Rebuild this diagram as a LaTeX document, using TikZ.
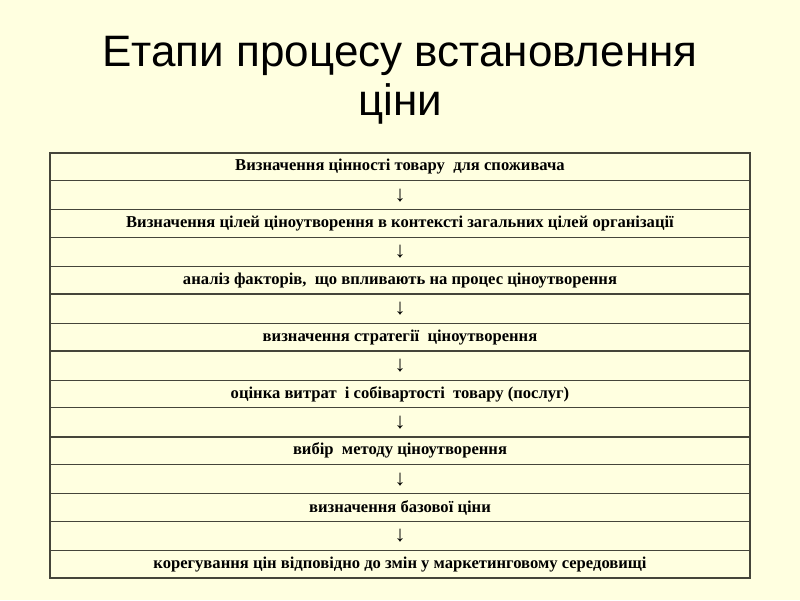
\documentclass[tikz,border=0pt]{standalone}
\usepackage{fontspec}
\setmainfont{Liberation Serif}
\newfontfamily\titlefont{Liberation Sans}
\definecolor{bg}{HTML}{FFFFE0}
\definecolor{rulec}{HTML}{45453A}
\tikzset{
  stagecell/.style={draw=rulec, line width=1.3pt, minimum width=700pt, minimum height=27.5pt, inner sep=0pt, font=\fontsize{16.6}{18}\selectfont\bfseries, text=black},
  arrowcell/.style={draw=rulec, line width=1.3pt, minimum width=700pt, minimum height=29.3pt, inner sep=0pt, font=\fontsize{22}{24}\selectfont, text=black},
  titletext/.style={font=\titlefont\fontsize{44}{47}\selectfont, align=center, text=black}
}
\begin{document}
\begin{tikzpicture}[x=1pt, y=-1pt]
\fill[bg] (0,0) rectangle (800,600);
\useasboundingbox (0,0) rectangle (800,600);
\node[titletext, anchor=base] (title1) at (400,66) {Етапи процесу встановлення};
\node[titletext, anchor=base] (title2) at (400,115) {ціни};
\node[stagecell] (s1) at (400,166.75) {Визначення цінності товару \ для споживача};
\node[arrowcell] (a1) at (400,195.15) {↓};
\node[stagecell] (s2) at (400,223.55) {Визначення цілей ціноутворення в контексті загальних цілей організації};
\node[arrowcell] (a2) at (400,251.95) {↓};
\node[stagecell] (s3) at (400,280.35) {аналіз факторів, \ що впливають на процес ціноутворення};
\node[arrowcell] (a3) at (400,308.75) {↓};
\node[stagecell] (s4) at (400,337.15) {визначення стратегії \ ціноутворення};
\node[arrowcell] (a4) at (400,365.55) {↓};
\node[stagecell] (s5) at (400,393.95) {оцінка витрат \ і собівартості \ товару (послуг)};
\node[arrowcell] (a5) at (400,422.35) {↓};
\node[stagecell] (s6) at (400,450.75) {вибір \ методу ціноутворення};
\node[arrowcell] (a6) at (400,479.15) {↓};
\node[stagecell] (s7) at (400,507.55) {визначення базової ціни};
\node[arrowcell] (a7) at (400,535.95) {↓};
\node[stagecell] (s8) at (400,564.35) {корегування цін відповідно до змін у маркетинговому середовищі};
\end{tikzpicture}
\end{document}
